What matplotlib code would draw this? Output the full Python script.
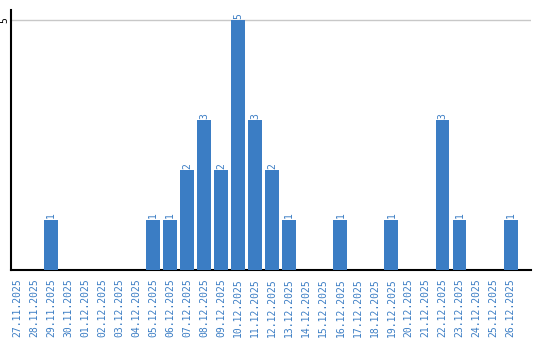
import matplotlib
matplotlib.use("Agg")
import matplotlib.pyplot as plt

dates = ["27.11.2025", "28.11.2025", "29.11.2025", "30.11.2025", "01.12.2025",
         "02.12.2025", "03.12.2025", "04.12.2025", "05.12.2025", "06.12.2025",
         "07.12.2025", "08.12.2025", "09.12.2025", "10.12.2025", "11.12.2025",
         "12.12.2025", "13.12.2025", "14.12.2025", "15.12.2025", "16.12.2025",
         "17.12.2025", "18.12.2025", "19.12.2025", "20.12.2025", "21.12.2025",
         "22.12.2025", "23.12.2025", "24.12.2025", "25.12.2025", "26.12.2025"]
counts = [0, 0, 1, 0, 0, 0, 0, 0, 1, 1,
          2, 3, 2, 5, 3, 2, 1, 0, 0, 1,
          0, 0, 1, 0, 0, 3, 1, 0, 0, 1]

BLUE = "#3b7dc4"
plt.rcParams["font.family"] = "DejaVu Sans Mono"

fig = plt.figure(figsize=(5.4, 3.4), dpi=100)
ax = fig.add_axes([11 / 540, 70 / 340, 520 / 540, 260 / 340])

x = list(range(len(dates)))
ax.bar(x, counts, width=0.82, color=BLUE, zorder=3)
for xi, v in zip(x, counts):
    if v:
        ax.text(xi, v + 0.03, str(v), rotation=90, ha="center", va="bottom",
                fontsize=7, color=BLUE)

ax.set_xlim(-0.35, 30.2)
ax.set_ylim(0, 5.2)
ax.set_yticks([5])
ax.set_yticklabels(["5"], rotation=90, va="center", fontsize=7)
ax.set_xticks(x)
ax.set_xticklabels(dates, rotation=90, fontsize=7, color=BLUE)
ax.tick_params(axis="x", length=0, pad=6)
ax.tick_params(axis="y", length=0, pad=1)
ax.grid(axis="y", color="#c8c8c8", linewidth=1, zorder=0)
ax.spines[["top", "right"]].set_visible(False)
for s in ("left", "bottom"):
    ax.spines[s].set_linewidth(1.5)

fig.savefig("out.png", dpi=100)
